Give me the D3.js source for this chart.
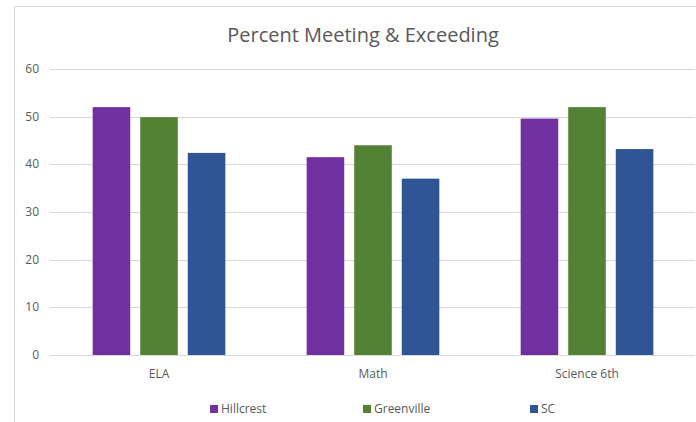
<!doctype html>
<html>
<head>
<meta charset="UTF-8">
<script src="https://d3js.org/d3.v7.min.js"></script>
<style>
  body { margin: 0; background: #fff; }
  text { font-family: "Open Sans", sans-serif; fill: #595959; }
</style>
</head>
<body>
<div id="chart"></div>
<script>
// data
var subjects = ["ELA", "Math", "Science 6th"];
var schools = ["Hillcrest", "Greenville", "SC"];
var hillcrest = [52, 41.5, 49.6];
var greenville = [49.9, 44, 52];
var sc = [42.4, 37, 43.2];
var yTicks = [0, 10, 20, 30, 40, 50, 60];
var colors = ["#7030a0", "#548235", "#2f5597"];

var series = [hillcrest, greenville, sc];

var width = 696, height = 422;
var margin = {top: 69, right: 2, bottom: 67, left: 52};

var svg = d3.select("#chart").append("svg")
  .attr("width", width)
  .attr("height", height);

// frame
svg.append("line").attr("x1", 14.5).attr("x2", 14.5).attr("y1", 6).attr("y2", height)
  .attr("stroke", "#d9d9d9");
svg.append("line").attr("x1", 14).attr("x2", width).attr("y1", 6.5).attr("y2", 6.5)
  .attr("stroke", "#d9d9d9");

svg.append("text")
  .attr("x", 363).attr("y", 42)
  .attr("text-anchor", "middle")
  .style("font-size", "20px")
  .text("Percent Meeting & Exceeding");

var x = d3.scaleBand()
  .domain(subjects)
  .range([margin.left, width - margin.right])
  .paddingInner(0.38)
  .paddingOuter(0.19);

var xs = d3.scaleBand()
  .domain(schools)
  .range([0, x.bandwidth()])
  .paddingInner(0.21);

var y = d3.scaleLinear()
  .domain([0, 60])
  .range([height - margin.bottom, margin.top]);

// gridlines
svg.append("g").selectAll("line")
  .data(yTicks)
  .enter()
  .append("line")
    .attr("x1", 50).attr("x2", width - 1)
    .attr("y1", d => Math.round(y(d)) + 0.5)
    .attr("y2", d => Math.round(y(d)) + 0.5)
    .attr("stroke", "#d9d9d9");

svg.append("g").selectAll("text")
  .data(yTicks)
  .enter()
  .append("text")
    .attr("x", 39)
    .attr("y", d => y(d) + 4)
    .attr("text-anchor", "end")
    .style("font-size", "12px")
    .text(d => d);

// bars
series.forEach(function (vals, i) {
  svg.append("g").selectAll("rect")
    .data(vals)
    .enter()
    .append("rect")
      .attr("x", (d, j) => x(subjects[j]) + xs(schools[i]))
      .attr("y", d => y(d))
      .attr("width", xs.bandwidth())
      .attr("height", d => y(0) - y(d))
      .attr("fill", colors[i]);
});

// category labels
svg.append("g").selectAll("text")
  .data(subjects)
  .enter()
  .append("text")
    .attr("x", d => x(d) + x.bandwidth() / 2)
    .attr("y", 378)
    .attr("text-anchor", "middle")
    .style("font-size", "12px")
    .text(d => d);

// legend
var legendX = [210, 363, 530];
var leg = svg.append("g").selectAll("g")
  .data(schools)
  .enter()
  .append("g")
    .attr("transform", (d, i) => "translate(" + legendX[i] + ",409)");
leg.append("rect")
  .attr("x", 0).attr("y", -4)
  .attr("width", 8).attr("height", 8)
  .attr("fill", (d, i) => colors[i]);
leg.append("text")
  .attr("x", 11).attr("y", 4)
  .style("font-size", "12px")
  .text(d => d);
</script>
</body>
</html>
